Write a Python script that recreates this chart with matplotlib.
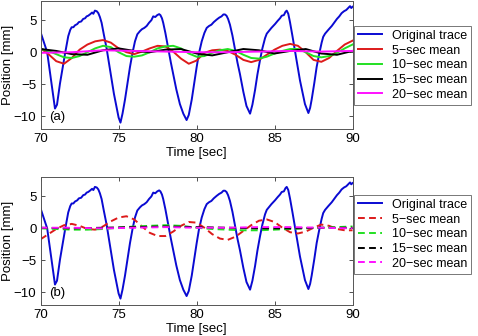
import matplotlib
matplotlib.use("Agg")
import matplotlib.pyplot as plt

plt.rcParams["font.family"] = ["Liberation Sans", "DejaVu Sans"]

# original position trace (sec, mm)
trace = [
    (70.0, 3.1), (70.2, 1.6), (70.42, 0.0), (70.65, -4.0), (70.92, -8.8),
    (71.05, -8.2), (71.24, -4.9), (71.4, -2.6), (71.56, -0.3), (71.77, 2.5),
    (71.9, 3.5), (71.99, 3.9), (72.1, 3.9), (72.2, 4.2), (72.35, 4.4),
    (72.45, 4.7), (72.6, 4.8), (72.73, 5.2), (72.85, 5.3), (72.95, 5.6),
    (73.05, 5.7), (73.16, 5.9), (73.3, 6.2), (73.38, 6.0), (73.48, 6.5),
    (73.6, 6.4), (73.7, 6.1), (73.8, 5.5), (73.91, 4.6), (74.05, 2.8),
    (74.23, 0.6), (74.4, -2.0), (74.55, -4.4), (74.7, -6.5), (74.87, -8.6),
    (75.0, -10.2), (75.12, -11.0), (75.25, -9.6), (75.41, -7.4), (75.57, -4.8),
    (75.73, -2.3), (75.9, 0.0), (76.05, 1.7), (76.2, 2.8), (76.37, 3.3),
    (76.5, 3.6), (76.65, 3.8), (76.8, 4.1), (76.95, 4.6), (77.1, 5.0),
    (77.22, 5.6), (77.35, 5.5), (77.48, 5.8), (77.6, 5.95), (77.68, 5.8),
    (77.78, 5.3), (77.86, 4.6), (78.0, 3.0), (78.18, 0.6), (78.35, -1.6),
    (78.5, -3.4), (78.7, -5.8), (78.93, -8.1), (79.15, -9.6), (79.36, -10.6),
    (79.5, -9.8), (79.69, -7.4), (79.85, -4.8), (80.0, -2.4), (80.15, -0.2),
    (80.33, 1.7), (80.5, 3.0), (80.65, 3.8), (80.8, 4.1), (80.95, 4.3),
    (81.1, 4.7), (81.29, 5.1), (81.45, 5.4), (81.6, 5.6), (81.72, 5.9),
    (81.82, 5.9), (81.92, 5.7), (82.02, 5.2), (82.14, 4.3), (82.3, 2.6),
    (82.46, 0.5), (82.62, -1.6), (82.78, -3.4), (83.0, -6.2), (83.2, -8.4),
    (83.43, -9.6), (83.58, -8.2), (83.75, -5.9), (83.9, -3.5), (84.07, -1.2),
    (84.22, 0.6), (84.39, 2.2), (84.5, 2.9), (84.6, 3.2), (84.8, 3.8),
    (85.03, 4.4), (85.2, 4.9), (85.35, 5.3), (85.46, 5.7), (85.6, 5.8),
    (85.7, 6.3), (85.78, 6.5), (85.88, 6.0), (85.99, 4.7), (86.15, 2.5),
    (86.31, 0.2), (86.47, -2.1), (86.63, -4.4), (86.8, -6.4), (86.95, -8.1),
    (87.17, -9.5), (87.28, -8.7), (87.38, -7.4), (87.55, -4.8), (87.7, -2.3),
    (87.86, -0.3), (88.02, 1.5), (88.12, 2.4), (88.24, 2.9), (88.45, 3.5),
    (88.67, 4.1), (88.85, 4.7), (89.0, 5.2), (89.15, 5.6), (89.3, 6.1),
    (89.45, 6.4), (89.6, 6.6), (89.72, 6.9), (89.84, 7.2), (89.92, 6.9),
    (90.0, 7.1),
]
trace_t = [p[0] for p in trace]
trace_mm = [p[1] for p in trace]

# half-second grid for the 5/10-sec means, coarser for the flatter ones
t_half = [70 + 0.5 * i for i in range(41)]
t_one = [70 + i for i in range(21)]
t_two = [70 + 2 * i for i in range(11)]

# (a) means
a_mean5 = [0.6, -0.3, -1.4, -1.8, -0.9, 0.4, 1.2, 1.7, 1.9, 1.5, 0.6, 0.0, -0.3,
           0.1, 0.6, 1.0, 0.9, 0.1, -1.0, -1.8, -1.3, -0.1, 0.3, 0.4, 0.2, -0.4,
           -1.2, -1.55, -1.2, -0.4, 0.4, 1.0, 1.3, 1.0, 0.0, -1.2, -1.5, -0.9,
           0.2, 1.2, 1.8]
a_mean10 = [0.5, 0.2, -0.3, -0.8, -0.9, -0.6, 0.0, 0.6, 1.0, 0.8, 0.0, -0.6, -0.7,
            -0.5, 0.0, 0.6, 0.9, 1.0, 0.6, -0.2, -0.7, -0.6, -0.1, 0.3, 0.5, 0.2,
            -0.4, -0.9, -1.0, -0.7, -0.2, 0.2, 0.5, 0.5, 0.0, -0.6, -0.8, -0.6,
            -0.1, 0.6, 1.2]
a_mean15 = [0.5, 0.2, -0.3, -0.4, 0.3, 0.6, 0.2, 0.0, 0.4, 0.5, -0.2, -0.5, 0.0,
            0.5, 0.3, -0.2, 0.2, 0.5, -0.2, -0.4, 0.2]
a_mean20 = [-0.1, 0.0, 0.3, 0.2, 0.1, 0.0, 0.0, 0.1, 0.2, 0.1, 0.2]

# (b) means
b_mean5 = [-1.7, -0.9, -0.1, 0.5, 0.7, 0.4, -0.1, -0.2, 0.3, 1.1, 1.7, 1.9, 1.4,
           0.3, -0.7, -1.2, -1.2, -0.5, 0.4, 1.0, 0.9, 0.1, -0.9, -1.6, -1.8,
           -1.3, -0.4, 0.5, 1.2, 1.4, 1.0, 0.1, -0.6, -0.8, -0.5, 0.1, 0.6, 0.4,
           -0.1, -0.3, -0.3]
b_mean10 = [0.0, -0.1, -0.2, -0.2, -0.1, 0.1, 0.3, 0.4, 0.5, 0.4, 0.1, -0.1, -0.2,
            -0.3, -0.3, -0.2, -0.1, 0.0, 0.1, 0.2, 0.3]
b_mean15 = [0.1, 0.0, 0.1, 0.2, 0.3, 0.2, 0.1, 0.0, 0.0, 0.1, 0.1]
b_mean20 = [0.1, 0.1, 0.0, 0.1, 0.2, 0.1, 0.1, 0.2, 0.2, 0.1, 0.0]

labels = ["Original trace", "5\u2212sec mean", "10\u2212sec mean",
          "15\u2212sec mean", "20\u2212sec mean"]
colors = ["#0a0ad2", "#dd1a1a", "#22e022", "black", "#ff10ff"]

fig = plt.figure(figsize=(4.78, 3.36), dpi=100)
ax_a = fig.add_axes([0.085, 0.616, 0.6525, 0.381])
ax_b = fig.add_axes([0.085, 0.0923, 0.6525, 0.380])

panels = [
    (ax_a, [a_mean5, a_mean10, a_mean15, a_mean20], [t_half, t_half, t_one, t_two],
     "-", "(a)", 26),
    (ax_b, [b_mean5, b_mean10, b_mean15, b_mean20], [t_half, t_one, t_two, t_two],
     "--", "(b)", 195),
]

for ax, means, grids, ls, tag, leg_top in panels:
    ax.plot(trace_t, trace_mm, color=colors[0], lw=1.4, label=labels[0])
    for m, tt, c, lab in zip(means, grids, colors[1:], labels[1:]):
        line, = ax.plot(tt, m, color=c, lw=1.4, ls=ls, label=lab)
        if ls == "--":
            line.set_dashes((3.5, 2.2))
    ax.set_xlim(70, 90)
    ax.set_ylim(-12, 8)
    ax.set_xticks([70, 75, 80, 85, 90])
    ax.set_yticks([-10, -5, 0, 5])
    ax.tick_params(direction="in", top=True, right=True, labelsize=9.5,
                   length=3, width=0.6, colors="#333333", labelcolor="black", pad=3)
    for s in ax.spines.values():
        s.set_color("#555555")
        s.set_linewidth(0.7)
    ax.set_xlabel("Time [sec]", fontsize=9.5, labelpad=1)
    ax.set_ylabel("Position [mm]", fontsize=9.5, labelpad=0)
    ax.text(70.53, -10.1, tag, fontsize=9.5, va="center", ha="left")
    leg = ax.legend(loc="upper left", bbox_to_anchor=(354 / 478, 1 - leg_top / 336),
                    bbox_transform=fig.transFigure, borderaxespad=0, fontsize=9,
                    frameon=True, fancybox=False, handlelength=1.9,
                    handletextpad=0.8, labelspacing=0.22, borderpad=0.3)
    leg.get_frame().set_edgecolor("#555555")
    leg.get_frame().set_linewidth(0.7)

fig.savefig("out.png", dpi=100)
